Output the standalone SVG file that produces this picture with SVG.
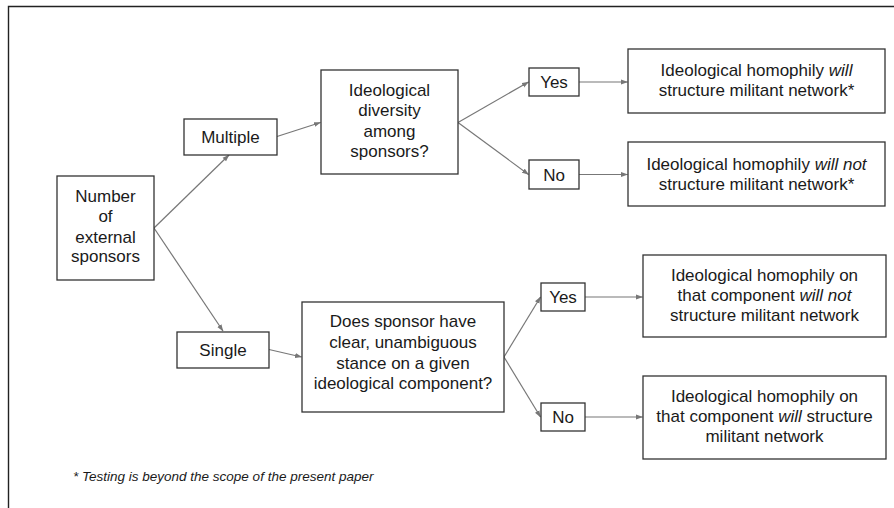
<svg xmlns="http://www.w3.org/2000/svg" width="894" height="508" viewBox="0 0 894 508">
<defs>
<style>
.box{fill:#fff;stroke:#333;stroke-width:1.3}
.t{font-family:"Liberation Sans",Arial,sans-serif;font-size:17px;fill:#1a1a1a;text-anchor:middle}
.fn{font-family:"Liberation Sans",Arial,sans-serif;font-size:13.5px;font-style:italic;fill:#1a1a1a}
.c{fill:none;stroke:#777;stroke-width:1.2}
.frame{fill:none;stroke:#222;stroke-width:1.4}
</style>
<marker id="ah" markerWidth="7" markerHeight="6" refX="6.5" refY="3" orient="auto" markerUnits="userSpaceOnUse">
<path d="M0,0.5 L7,3 L0,5.5 Z" fill="#777"/>
</marker>
</defs>
<rect width="894" height="508" fill="#fff"/>
<path class="frame" d="M8.5,508 V6.5 H894"/>
<g id="connectors">
<path class="c" d="M154,228 L229,155" marker-end="url(#ah)"/>
<path class="c" d="M154,228 L223,331" marker-end="url(#ah)"/>
<path class="c" d="M277,136.5 L320.5,122.5" marker-end="url(#ah)"/>
<path class="c" d="M458,122.5 L528.5,82" marker-end="url(#ah)"/>
<path class="c" d="M458,122.5 L528.5,174.5" marker-end="url(#ah)"/>
<path class="c" d="M579,82 L627.5,82" marker-end="url(#ah)"/>
<path class="c" d="M579,174.5 L627.5,174.5" marker-end="url(#ah)"/>
<path class="c" d="M269,349.5 L301.5,357" marker-end="url(#ah)"/>
<path class="c" d="M504,357 L540.5,297" marker-end="url(#ah)"/>
<path class="c" d="M504,357 L540.5,417" marker-end="url(#ah)"/>
<path class="c" d="M585,297 L642.5,297" marker-end="url(#ah)"/>
<path class="c" d="M585,417 L642.5,417" marker-end="url(#ah)"/>
</g>
<g id="n-number">
<rect class="box" x="57" y="176" width="97" height="104"/>
<text class="t" x="105.5" y="202">Number</text>
<text class="t" x="105.5" y="222">of</text>
<text class="t" x="105.5" y="242.5">external</text>
<text class="t" x="105.5" y="262">sponsors</text>
</g>
<g id="n-multiple">
<rect class="box" x="184" y="119" width="93" height="36"/>
<text class="t" x="230.5" y="143">Multiple</text>
</g>
<g id="n-diversity">
<rect class="box" x="321" y="70" width="137" height="104"/>
<text class="t" x="389.5" y="95.5">Ideological</text>
<text class="t" x="389.5" y="116">diversity</text>
<text class="t" x="389.5" y="136.5">among</text>
<text class="t" x="389.5" y="157">sponsors?</text>
</g>
<g id="n-yes1">
<rect class="box" x="529" y="68" width="50" height="28"/>
<text class="t" x="554" y="88">Yes</text>
</g>
<g id="n-no1">
<rect class="box" x="529" y="160" width="50" height="29"/>
<text class="t" x="554" y="180.5">No</text>
</g>
<g id="n-r1">
<rect class="box" x="628" y="49" width="257" height="64"/>
<text class="t" x="756.5" y="76">Ideological homophily <tspan font-style="italic">will</tspan></text>
<text class="t" x="756.5" y="96">structure militant network*</text>
</g>
<g id="n-r2">
<rect class="box" x="628" y="142" width="257" height="64"/>
<text class="t" x="756.5" y="169.5">Ideological homophily <tspan font-style="italic">will not</tspan></text>
<text class="t" x="756.5" y="189.5">structure militant network*</text>
</g>
<g id="n-single">
<rect class="box" x="177" y="332" width="92" height="36"/>
<text class="t" x="223" y="356">Single</text>
</g>
<g id="n-does">
<rect class="box" x="302" y="302" width="202" height="110"/>
<text class="t" x="403" y="327">Does sponsor have</text>
<text class="t" x="403" y="348">clear, unambiguous</text>
<text class="t" x="403" y="368.5">stance on a given</text>
<text class="t" x="403" y="389">ideological component?</text>
</g>
<g id="n-yes2">
<rect class="box" x="541" y="283" width="44" height="28"/>
<text class="t" x="563" y="303">Yes</text>
</g>
<g id="n-no2">
<rect class="box" x="541" y="403" width="44" height="28"/>
<text class="t" x="563" y="423">No</text>
</g>
<g id="n-r3">
<rect class="box" x="643" y="255" width="243" height="82"/>
<text class="t" x="764.5" y="280.5">Ideological homophily on</text>
<text class="t" x="764.5" y="300.5">that component <tspan font-style="italic">will not</tspan></text>
<text class="t" x="764.5" y="320.5">structure militant network</text>
</g>
<g id="n-r4">
<rect class="box" x="643" y="376" width="243" height="83"/>
<text class="t" x="764.5" y="402">Ideological homophily on</text>
<text class="t" x="764.5" y="422">that component <tspan font-style="italic">will</tspan> structure</text>
<text class="t" x="764.5" y="442">militant network</text>
</g>
<text class="fn" x="73" y="481">* Testing is beyond the scope of the present paper</text>
</svg>
